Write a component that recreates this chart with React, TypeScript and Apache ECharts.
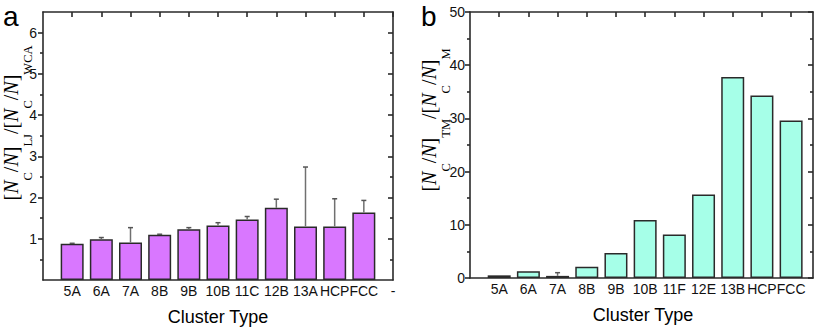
import React, { useEffect, useRef } from "react";
import * as echarts from "echarts";

// ---------- data ----------
const catA = ["5A", "6A", "7A", "8B", "9B", "10B", "11C", "12B", "13A", "HCP", "FCC"];
const valA = [0.88, 0.99, 0.91, 1.1, 1.23, 1.32, 1.47, 1.75, 1.3, 1.3, 1.64];
const errA = [0.01, 0.04, 0.36, 0.01, 0.04, 0.07, 0.07, 0.21, 1.44, 0.67, 0.29];
const extraTickA = "-";

const catB = ["5A", "6A", "7A", "8B", "9B", "10B", "11F", "12E", "13B", "HCP", "FCC"];
const valB = [0.5, 1.26, 0.4, 2.1, 4.7, 10.9, 8.2, 15.7, 37.8, 34.3, 29.6];
const errB = [0, 0, 0.6, 0, 0, 0, 0, 0, 0, 0, 0];

const yMajorA = [1, 2, 3, 4, 5, 6];
const yMinorA = [0.5, 1.5, 2.5, 3.5, 4.5, 5.5];
const yMajorB = [0, 10, 20, 30, 40, 50];
const yMinorB = [5, 15, 25, 35, 45];

const COLOR_A = "#d977ff";
const COLOR_B = "#a6ffe8";
const EDGE = "#2a2a2a";
const ERR = "#707070";
const SANS = "Liberation Sans, Arial, sans-serif";
const SERIF = "Liberation Serif, Times New Roman, serif";

const xPos = (cats: string[]) => cats.map((_, i) => i + 1);

function xAxesFor(gridIndex: number, max: number, labels: string[], positions: number[]) {
  const common = {
    type: "value",
    gridIndex,
    min: 0,
    max,
    splitLine: { show: false },
    axisLine: { show: true, onZero: false, lineStyle: { color: EDGE, width: 1.6 } },
  };
  return [
    {
      ...common,
      position: "bottom",
      axisTick: { show: false },
      axisLabel: {
        customValues: positions,
        formatter: (v: number) => labels[Math.round(v) - 1] ?? "",
        color: "#111",
        fontFamily: SANS,
        fontSize: 14,
        margin: 4,
      },
    },
    {
      ...common,
      position: "top",
      axisTick: {
        show: true,
        inside: true,
        length: 5,
        customValues: positions,
        lineStyle: { color: EDGE, width: 1.6 },
      },
      axisLabel: { show: false },
    },
  ];
}

function yAxesFor(gridIndex: number, max: number, major: number[], minor: number[], labels: number[], margin: number) {
  const common = {
    type: "value",
    gridIndex,
    min: 0,
    max,
    splitLine: { show: false },
  };
  const line = { show: true, onZero: false, lineStyle: { color: EDGE, width: 1.6 } };
  const noLine = { show: false, onZero: false };
  return [
    {
      ...common,
      position: "left",
      axisLine: line,
      axisTick: { show: true, length: 5, customValues: major, lineStyle: { color: EDGE, width: 1.6 } },
      axisLabel: { customValues: labels, color: "#111", fontFamily: SANS, fontSize: 14, margin },
    },
    {
      ...common,
      position: "left",
      axisLine: noLine,
      axisTick: { show: true, length: 3, customValues: minor, lineStyle: { color: EDGE, width: 1.6 } },
      axisLabel: { show: false },
    },
    {
      ...common,
      position: "right",
      axisLine: line,
      axisTick: { show: true, inside: true, length: 5, customValues: major, lineStyle: { color: EDGE, width: 1.6 } },
      axisLabel: { show: false },
    },
    {
      ...common,
      position: "right",
      axisLine: noLine,
      axisTick: { show: true, inside: true, length: 3, customValues: minor, lineStyle: { color: EDGE, width: 1.6 } },
      axisLabel: { show: false },
    },
  ];
}

const errRender = (params: any, api: any) => {
  const x = api.value(0);
  const y = api.value(1);
  const hi = api.value(2);
  const p0 = api.coord([x, y]);
  const p1 = api.coord([x, hi]);
  return {
    type: "group",
    children: [
      { type: "line", shape: { x1: p0[0], y1: p0[1], x2: p1[0], y2: p1[1] }, style: { stroke: ERR, lineWidth: 1.5 } },
      { type: "line", shape: { x1: p1[0] - 2.5, y1: p1[1], x2: p1[0] + 2.5, y2: p1[1] }, style: { stroke: "#555", lineWidth: 1.5 } },
    ],
  };
};

const titleRich = {
  r: { fontFamily: SERIF, fontSize: 20, lineHeight: 22, verticalAlign: "top", fill: "#000" },
  i: { fontFamily: SERIF, fontStyle: "italic", fontSize: 20, lineHeight: 22, verticalAlign: "top", fill: "#000" },
  s: { fontFamily: SERIF, fontSize: 12.5, lineHeight: 12, verticalAlign: "top", padding: [20, 0, 0, 0], fill: "#000" },
};

export default function App() {
  const ref = useRef<HTMLDivElement>(null);
  useEffect(() => {
    if (!ref.current) return;
    const chart = echarts.init(ref.current, undefined, { renderer: "svg" });
    const posA = xPos(catA);
    const posB = xPos(catB);
    const labelsA = [...catA, extraTickA];
    const labelPosA = [...posA, catA.length + 1];

    const option: any = {
      animation: false,
      backgroundColor: "#fff",
      grid: [
        { left: 43, top: 12, width: 350, height: 268 },
        { left: 470, top: 12, width: 343, height: 266 },
      ],
      xAxis: [
        ...xAxesFor(0, 12, labelsA, labelPosA),
        ...xAxesFor(1, 11.75, catB, posB),
      ],
      yAxis: [
        ...yAxesFor(0, 6.5, yMajorA, yMinorA, yMajorA, 6),
        ...yAxesFor(1, 50, yMajorB, yMinorB, yMajorB, 5),
      ],
      series: [
        {
          type: "bar",
          xAxisIndex: 0,
          yAxisIndex: 0,
          barWidth: 23,
          data: catA.map((_, i) => [posA[i], valA[i]]),
          itemStyle: { color: COLOR_A, borderColor: EDGE, borderWidth: 1.5 },
        },
        {
          type: "custom",
          xAxisIndex: 0,
          yAxisIndex: 0,
          renderItem: errRender,
          encode: { x: 0, y: [1, 2] },
          data: catA.map((_, i) => [posA[i], valA[i], valA[i] + errA[i]]),
          z: 3,
        },
        {
          type: "bar",
          xAxisIndex: 2,
          yAxisIndex: 4,
          barWidth: 23,
          data: catB.map((_, i) => [posB[i], valB[i]]),
          itemStyle: { color: COLOR_B, borderColor: EDGE, borderWidth: 1.5 },
        },
        {
          type: "custom",
          xAxisIndex: 2,
          yAxisIndex: 4,
          renderItem: errRender,
          encode: { x: 0, y: [1, 2] },
          data: catB
            .map((_, i) => [posB[i], valB[i], valB[i] + errB[i]])
            .filter((_, i) => errB[i] > 0),
          z: 3,
        },
      ],
      graphic: [
        { type: "text", x: 3, y: 16, style: { text: "a", fontFamily: SANS, fontSize: 28, lineHeight: 28, verticalAlign: "middle", fill: "#000" } },
        { type: "text", x: 421, y: 16, style: { text: "b", fontFamily: SANS, fontSize: 28, lineHeight: 28, verticalAlign: "middle", fill: "#000" } },
        { type: "text", x: 218, y: 317, style: { text: "Cluster Type", fontFamily: SANS, fontSize: 18, align: "center", verticalAlign: "middle", fill: "#000" } },
        { type: "text", x: 643, y: 315, style: { text: "Cluster Type", fontFamily: SANS, fontSize: 18, align: "center", verticalAlign: "middle", fill: "#000" } },
        {
          type: "text",
          x: 12,
          y: 123,
          rotation: Math.PI / 2,
          style: {
            text: "{r|[}{i|N}{s|C}{r|/}{i|N}{r|]}{s|LJ}{r|/[}{i|N}{s|C}{r|/}{i|N}{r|]}{s|WCA}",
            rich: titleRich,
            align: "center",
            verticalAlign: "middle",
          },
        },
        {
          type: "text",
          x: 430,
          y: 120,
          rotation: Math.PI / 2,
          style: {
            text: "{r|[}{i|N}{s|C}{r|/}{i|N}{r|]}{s|TM}{r|/[}{i|N}{s|C}{r|/}{i|N}{r|]}{s|M}",
            rich: titleRich,
            align: "center",
            verticalAlign: "middle",
          },
        },
      ],
    };
    chart.setOption(option);
    return () => chart.dispose();
  }, []);
  return (
    <div
      ref={ref}
      style={{ position: "absolute", left: 0, top: 0, width: 817, height: 328 }}
    />
  );
}
